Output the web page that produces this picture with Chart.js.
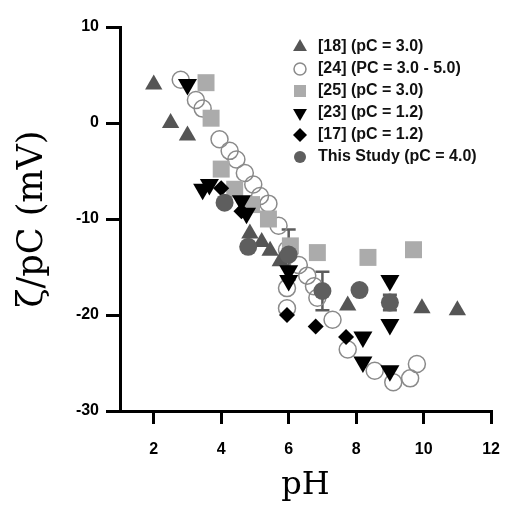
<!DOCTYPE html>
<html>
<head>
<meta charset="utf-8">
<script src="https://cdn.jsdelivr.net/npm/chart.js@4"></script>
<style>
  body { margin: 0; background: #fff; }
  #wrap { width: 516px; height: 505px; }
</style>
</head>
<body>
<div id="wrap"><canvas id="zetaChart" width="516" height="505"></canvas></div>
<script>
// axis ticks
const xTicks = [2, 4, 6, 8, 10, 12];
const yTicks = [10, 0, -10, -20, -30];

// [18] (pC = 3.0)
const ref18X = [2.0, 2.5, 3.0, 4.85, 5.2, 5.45, 5.75, 7.75, 9.95, 11.0];
const ref18Y = [4.0, 0.0, -1.3, -11.5, -12.4, -13.3, -14.4, -19.0, -19.3, -19.5];

// [24] (PC = 3.0 - 5.0)
const ref24X = [2.8, 3.25, 3.45, 3.95, 4.25, 4.45, 4.7, 4.95, 5.15, 5.4, 5.7, 5.95, 6.3, 6.55, 6.75, 6.85, 5.95, 5.95, 7.3, 7.75, 8.55, 9.1, 9.6, 9.8];
const ref24Y = [4.5, 2.4, 1.5, -1.7, -2.9, -3.8, -5.2, -6.4, -7.6, -8.4, -10.7, -13.2, -14.8, -15.9, -17.0, -18.2, -17.2, -19.3, -20.5, -23.6, -25.8, -27.0, -26.6, -25.1];

// [25] (pC = 3.0)
const ref25X = [3.55, 3.7, 4.0, 4.4, 4.9, 5.4, 6.05, 6.85, 8.35, 9.7];
const ref25Y = [4.2, 0.5, -4.8, -6.9, -8.5, -10.0, -12.8, -13.5, -14.0, -13.2];

// [23] (pC = 1.2)
const ref23X = [3.0, 3.45, 3.65, 4.6, 4.75, 6.0, 6.0, 8.2, 8.2, 9.0, 9.0, 9.0];
const ref23Y = [4.0, -6.9, -6.4, -8.1, -9.4, -15.4, -16.4, -22.3, -24.9, -25.8, -16.4, -21.0];

// [17] (pC = 1.2)
const ref17X = [4.0, 4.6, 5.95, 6.8, 7.7];
const ref17Y = [-6.8, -9.2, -20.0, -21.2, -22.3];

// This Study (pC = 4.0)
const studyX = [4.1, 4.8, 6.0, 7.0, 8.1, 9.0];
const studyY = [-8.3, -12.9, -13.7, -17.5, -17.4, -18.7];
const studyErr = [0, 0, 2.6, 2.0, 0, 0.8];

function pts(xs, ys) {
  return xs.map((v, i) => ({ x: v, y: ys[i] }));
}

const sansBold = { family: "'Liberation Sans', Arial, sans-serif", size: 16, weight: 'bold' };
const serif = "'DejaVu Serif', 'Liberation Serif', serif";

// error bars under the markers
const errorBars = {
  id: 'errorBars',
  beforeDatasetsDraw(chart) {
    const { ctx, scales: { x, y } } = chart;
    ctx.save();
    ctx.strokeStyle = '#5c5c5c';
    ctx.lineWidth = 2.5;
    studyX.forEach((v, i) => {
      const e = studyErr[i];
      if (!e) return;
      const px = x.getPixelForValue(v);
      const top = y.getPixelForValue(studyY[i] + e);
      const bot = y.getPixelForValue(studyY[i] - e);
      ctx.beginPath();
      ctx.moveTo(px, top); ctx.lineTo(px, bot);
      ctx.moveTo(px - 7, top); ctx.lineTo(px + 7, top);
      ctx.moveTo(px - 7, bot); ctx.lineTo(px + 7, bot);
      ctx.stroke();
    });
    ctx.restore();
  }
};

// legend in the top right corner
const cornerLegend = {
  id: 'cornerLegend',
  afterDraw(chart) {
    const ctx = chart.ctx;
    ctx.save();
    chart.data.datasets.forEach((ds, i) => {
      const yy = 47 + i * 22;
      ctx.fillStyle = ds.backgroundColor;
      ctx.strokeStyle = ds.borderColor;
      ctx.lineWidth = ds.borderWidth || 0;
      Chart.helpers.drawPoint(ctx, {
        pointStyle: ds.pointStyle,
        rotation: ds.pointRotation || 0,
        radius: ds.legendRadius,
        borderWidth: ds.borderWidth || 0
      }, 300, yy);
      ctx.fillStyle = '#111';
      ctx.font = "bold 16px 'Liberation Sans', Arial, sans-serif";
      ctx.textBaseline = 'middle';
      ctx.textAlign = 'left';
      ctx.fillText(ds.label, 318, yy);
    });
    ctx.restore();
  }
};

const ctx = document.getElementById('zetaChart').getContext('2d');
const zetaChart = new Chart(ctx, {
  type: 'scatter',
  data: {
    datasets: [
      {
        label: '[18] (pC = 3.0)',
        data: pts(ref18X, ref18Y),
        pointStyle: 'triangle',
        pointRadius: 10,
        legendRadius: 8,
        backgroundColor: '#555555',
        borderColor: '#555555',
        borderWidth: 0,
        order: 4
      },
      {
        label: '[24] (PC = 3.0 - 5.0)',
        data: pts(ref24X, ref24Y),
        pointStyle: 'circle',
        pointRadius: 8.5,
        legendRadius: 6,
        backgroundColor: 'rgba(255,255,255,0)',
        borderColor: '#8a8a8a',
        borderWidth: 1.5,
        order: 6
      },
      {
        label: '[25] (pC = 3.0)',
        data: pts(ref25X, ref25Y),
        pointStyle: 'rect',
        pointRadius: 12,
        legendRadius: 8.5,
        backgroundColor: '#ababab',
        borderColor: '#ababab',
        borderWidth: 0,
        order: 5
      },
      {
        label: '[23] (pC = 1.2)',
        data: pts(ref23X, ref23Y),
        pointStyle: 'triangle',
        pointRotation: 180,
        pointRadius: 11,
        legendRadius: 8,
        backgroundColor: '#000000',
        borderColor: '#000000',
        borderWidth: 0,
        order: 3
      },
      {
        label: '[17] (pC = 1.2)',
        data: pts(ref17X, ref17Y),
        pointStyle: 'rectRot',
        pointRadius: 8,
        legendRadius: 7,
        backgroundColor: '#000000',
        borderColor: '#000000',
        borderWidth: 0,
        order: 2
      },
      {
        label: 'This Study (pC = 4.0)',
        data: pts(studyX, studyY),
        pointStyle: 'circle',
        pointRadius: 9,
        legendRadius: 6,
        backgroundColor: '#5e5e5e',
        borderColor: '#5e5e5e',
        borderWidth: 0,
        order: 1
      }
    ]
  },
  options: {
    responsive: false,
    animation: false,
    layout: { padding: { top: 27, right: 13, left: 0, bottom: 0 } },
    plugins: {
      legend: { display: false },
      tooltip: { enabled: false }
    },
    scales: {
      x: {
        type: 'linear',
        min: 1,
        max: 12,
        afterBuildTicks: s => { s.ticks = xTicks.map(v => ({ value: v })); },
        afterFit: s => { s.height = 94; },
        grid: { drawOnChartArea: false, color: '#000', lineWidth: 3, tickLength: 13 },
        border: { color: '#000', width: 3 },
        ticks: { color: '#000', font: sansBold, padding: 16, maxRotation: 0 },
        title: {
          display: true,
          text: 'pH',
          color: '#000',
          font: { family: serif, size: 32 },
          padding: { top: 0, bottom: 0 }
        }
      },
      y: {
        type: 'linear',
        min: -30,
        max: 10,
        afterBuildTicks: s => { s.ticks = yTicks.map(v => ({ value: v })); },
        afterFit: s => { s.width = 120; },
        grid: { drawOnChartArea: false, color: '#000', lineWidth: 3, tickLength: 14 },
        border: { color: '#000', width: 3 },
        ticks: { color: '#000', font: sansBold, padding: 7 },
        title: {
          display: true,
          text: 'ζ/pC (mV)',
          color: '#000',
          font: { family: serif, size: 35 },
          padding: { top: 12, bottom: 0 }
        }
      }
    }
  },
  plugins: [errorBars, cornerLegend]
});
</script>
</body>
</html>
